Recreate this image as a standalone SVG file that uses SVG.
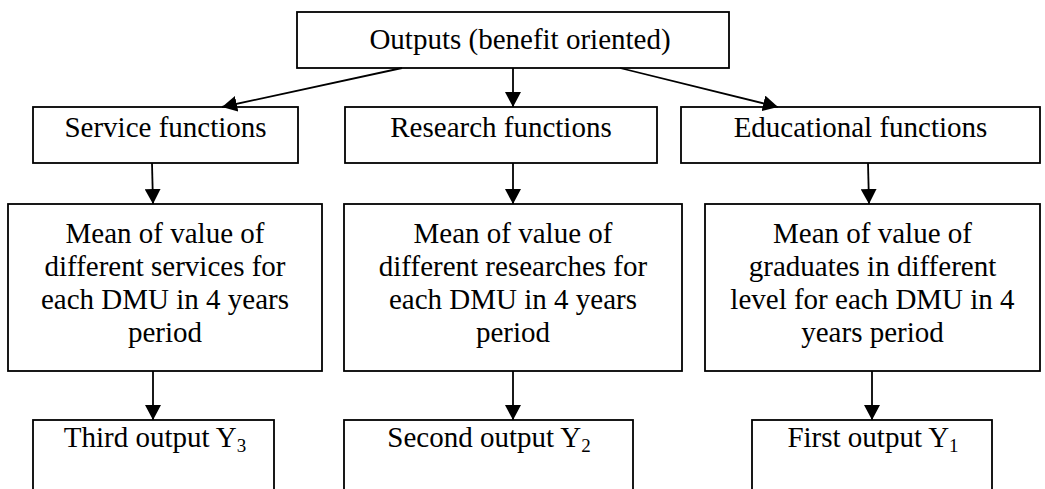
<svg xmlns="http://www.w3.org/2000/svg" width="1045" height="489" viewBox="0 0 1045 489">
<defs>
<style>
rect.box{fill:#fff;stroke:#000;stroke-width:1.8}
text{font-family:"Liberation Serif","Times New Roman",serif;font-size:29px;fill:#000;text-anchor:middle}
.sub{font-size:19px}
.conn line{stroke:#000;stroke-width:1.8;marker-end:url(#ah)}
</style>
<marker id="ah" markerUnits="userSpaceOnUse" markerWidth="16" markerHeight="16" viewBox="0 0 16 16" refX="15" refY="8" orient="auto">
<path d="M0,0 L15,8 L0,16 Z" fill="#000"/>
</marker>
</defs>
<rect width="1045" height="489" fill="#fff"/>
<g id="outputs">
<rect class="box" x="297" y="12" width="432" height="56"/>
<text x="520" y="49">Outputs (benefit oriented)</text>
</g>
<g id="service">
<rect class="box" x="33" y="107" width="265" height="56"/>
<text x="165.5" y="137">Service functions</text>
</g>
<g id="research">
<rect class="box" x="345" y="107" width="312" height="56"/>
<text x="501" y="137">Research functions</text>
</g>
<g id="educational">
<rect class="box" x="681" y="107" width="359" height="56"/>
<text x="860.5" y="137">Educational functions</text>
</g>
<g id="mean-service">
<rect class="box" x="8" y="204" width="314" height="167"/>
<text x="165" y="243">Mean of value of</text>
<text x="165" y="276">different services for</text>
<text x="165" y="309">each DMU in 4 years</text>
<text x="165" y="342">period</text>
</g>
<g id="mean-research">
<rect class="box" x="344" y="204" width="338" height="167"/>
<text x="513" y="243">Mean of value of</text>
<text x="513" y="276">different researches for</text>
<text x="513" y="309">each DMU in 4 years</text>
<text x="513" y="342">period</text>
</g>
<g id="mean-educational">
<rect class="box" x="705" y="204" width="335" height="167"/>
<text x="872.5" y="243">Mean of value of</text>
<text x="872.5" y="276">graduates in different</text>
<text x="872.5" y="309">level for each DMU in 4</text>
<text x="872.5" y="342">years period</text>
</g>
<g id="y3">
<rect class="box" x="33" y="420" width="241" height="90"/>
<text x="155" y="447">Third output Y<tspan class="sub" dy="5">3</tspan></text>
</g>
<g id="y2">
<rect class="box" x="344" y="420" width="289" height="90"/>
<text x="489" y="447">Second output Y<tspan class="sub" dy="5">2</tspan></text>
</g>
<g id="y1">
<rect class="box" x="752" y="420" width="240" height="90"/>
<text x="873" y="447">First output Y<tspan class="sub" dy="5">1</tspan></text>
</g>
<g id="connectors" class="conn">
<line x1="402" y1="68" x2="222" y2="107"/>
<line x1="513" y1="68" x2="513" y2="107"/>
<line x1="620" y1="68" x2="778" y2="107"/>
<line x1="152" y1="163" x2="153" y2="204"/>
<line x1="513" y1="163" x2="513" y2="204"/>
<line x1="868" y1="163" x2="869" y2="204"/>
<line x1="153" y1="371" x2="153" y2="420"/>
<line x1="513" y1="371" x2="513" y2="420"/>
<line x1="872" y1="371" x2="872" y2="420"/>
</g>
</svg>
